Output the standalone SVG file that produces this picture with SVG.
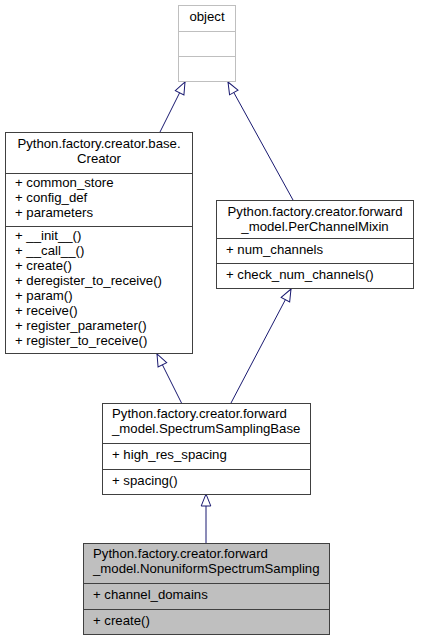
<svg xmlns="http://www.w3.org/2000/svg" width="421" height="640" viewBox="0 0 421 640">
<defs>
<style>
text{font-family:"Liberation Sans",Arial,Helvetica,sans-serif;font-size:13.2px;fill:#000}
.c{text-anchor:middle}
.box{fill:#fff;stroke:#404040;stroke-width:1}
.gbox{fill:#bfbfbf;stroke:#404040;stroke-width:1}
.obox{fill:#fff;stroke:#bfbfbf;stroke-width:1}
.div{stroke:#404040;stroke-width:1}
.odiv{stroke:#bfbfbf;stroke-width:1}
.edge{stroke:#191970;stroke-width:1;fill:none}
</style>
<marker id="arr" markerUnits="userSpaceOnUse" markerWidth="16" markerHeight="14" refX="13" refY="7" orient="auto" overflow="visible">
<path d="M1,2.2 L13,7 L1,11.8 Z" fill="#fff" stroke="#191970" stroke-width="1"/>
</marker>
</defs>

<g id="connectors">
<line class="edge" x1="160" y1="132" x2="185" y2="82" marker-end="url(#arr)"/>
<line class="edge" x1="293" y1="200" x2="228" y2="82" marker-end="url(#arr)"/>
<line class="edge" x1="181.5" y1="403" x2="157" y2="354" marker-end="url(#arr)"/>
<line class="edge" x1="231" y1="403" x2="291" y2="289" marker-end="url(#arr)"/>
<line class="edge" x1="206" y1="543" x2="206" y2="494" marker-end="url(#arr)"/>
</g>

<g id="object">
<rect class="obox" x="178.5" y="5.5" width="57" height="76"/>
<line class="odiv" x1="178.5" y1="31.5" x2="235.5" y2="31.5"/>
<line class="odiv" x1="178.5" y1="56.5" x2="235.5" y2="56.5"/>
<text class="c" x="207" y="21">object</text>
</g>

<g id="Creator">
<rect class="box" x="5.5" y="132.5" width="187" height="221"/>
<line class="div" x1="5.5" y1="173.5" x2="192.5" y2="173.5"/>
<line class="div" x1="5.5" y1="226.5" x2="192.5" y2="226.5"/>
<text class="c" x="99" y="148">Python.factory.creator.base.</text>
<text class="c" x="99" y="163">Creator</text>
<text x="15" y="187">+ common_store</text>
<text x="15" y="202">+ config_def</text>
<text x="15" y="217">+ parameters</text>
<text x="15" y="240">+ __init__()</text>
<text x="15" y="255">+ __call__()</text>
<text x="15" y="270">+ create()</text>
<text x="15" y="285">+ deregister_to_receive()</text>
<text x="15" y="300">+ param()</text>
<text x="15" y="315">+ receive()</text>
<text x="15" y="330">+ register_parameter()</text>
<text x="15" y="345">+ register_to_receive()</text>
</g>

<g id="PerChannelMixin">
<rect class="box" x="216.5" y="200.5" width="197" height="88"/>
<line class="div" x1="216.5" y1="238.5" x2="413.5" y2="238.5"/>
<line class="div" x1="216.5" y1="263.5" x2="413.5" y2="263.5"/>
<text class="c" x="315" y="216">Python.factory.creator.forward</text>
<text class="c" x="315" y="231">_model.PerChannelMixin</text>
<text x="226" y="254">+ num_channels</text>
<text x="226" y="279">+ check_num_channels()</text>
</g>

<g id="SpectrumSamplingBase">
<rect class="box" x="102.5" y="403.5" width="208" height="91"/>
<line class="div" x1="102.5" y1="443.5" x2="310.5" y2="443.5"/>
<line class="div" x1="102.5" y1="469.5" x2="310.5" y2="469.5"/>
<text x="112" y="418">Python.factory.creator.forward</text>
<text x="112" y="433">_model.SpectrumSamplingBase</text>
<text x="112" y="459">+ high_res_spacing</text>
<text x="112" y="485">+ spacing()</text>
</g>

<g id="NonuniformSpectrumSampling">
<rect class="gbox" x="83.5" y="543.5" width="246" height="91"/>
<line class="div" x1="83.5" y1="583.5" x2="329.5" y2="583.5"/>
<line class="div" x1="83.5" y1="609.5" x2="329.5" y2="609.5"/>
<text x="93" y="558">Python.factory.creator.forward</text>
<text x="93" y="573">_model.NonuniformSpectrumSampling</text>
<text x="93" y="599">+ channel_domains</text>
<text x="93" y="625">+ create()</text>
</g>
</svg>
